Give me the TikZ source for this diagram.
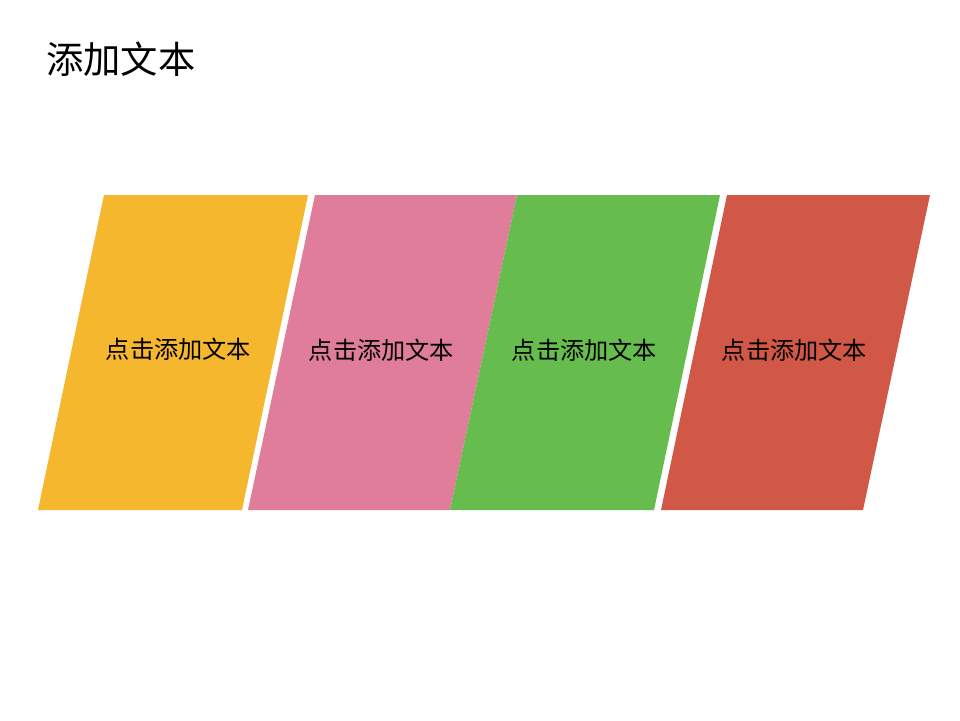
\documentclass[tikz,border=0pt]{standalone}
\usepackage{fontspec}
\newfontfamily\cjk{Noto Sans CJK SC}
\definecolor{cyellow}{RGB}{245,183,46}
\definecolor{cpink}{RGB}{224,125,154}
\definecolor{cgreen}{RGB}{102,189,77}
\definecolor{cred}{RGB}{209,87,70}
\begin{document}
\begin{tikzpicture}[x=1pt,y=-1pt,
  lbl/.style={font=\cjk\fontsize{24.2}{28}\selectfont,text=black,inner sep=0pt},
  ttl/.style={font=\cjk\fontsize{37.3}{42}\selectfont,text=black,inner sep=0pt,anchor=west}]
\useasboundingbox[fill=white] (0,0) rectangle (960,720);
\fill[cyellow] (104,195) -- (308,195) -- (242,510) -- (38,510) -- cycle;
\fill[cpink] (315,195) -- (517,195) -- (450,510) -- (248,510) -- cycle;
\fill[cgreen] (517,195) -- (720,195) -- (654,510) -- (450,510) -- cycle;
\fill[cred] (727,195) -- (930,195) -- (863,510) -- (661,510) -- cycle;
\node[ttl] (title) at (46,59) {添加文本};
\node[lbl] (l1) at (178.5,349) {点击添加文本};
\node[lbl] (l2) at (381.5,350) {点击添加文本};
\node[lbl] (l3) at (584.5,350) {点击添加文本};
\node[lbl] (l4) at (794.5,350) {点击添加文本};
\end{tikzpicture}
\end{document}
